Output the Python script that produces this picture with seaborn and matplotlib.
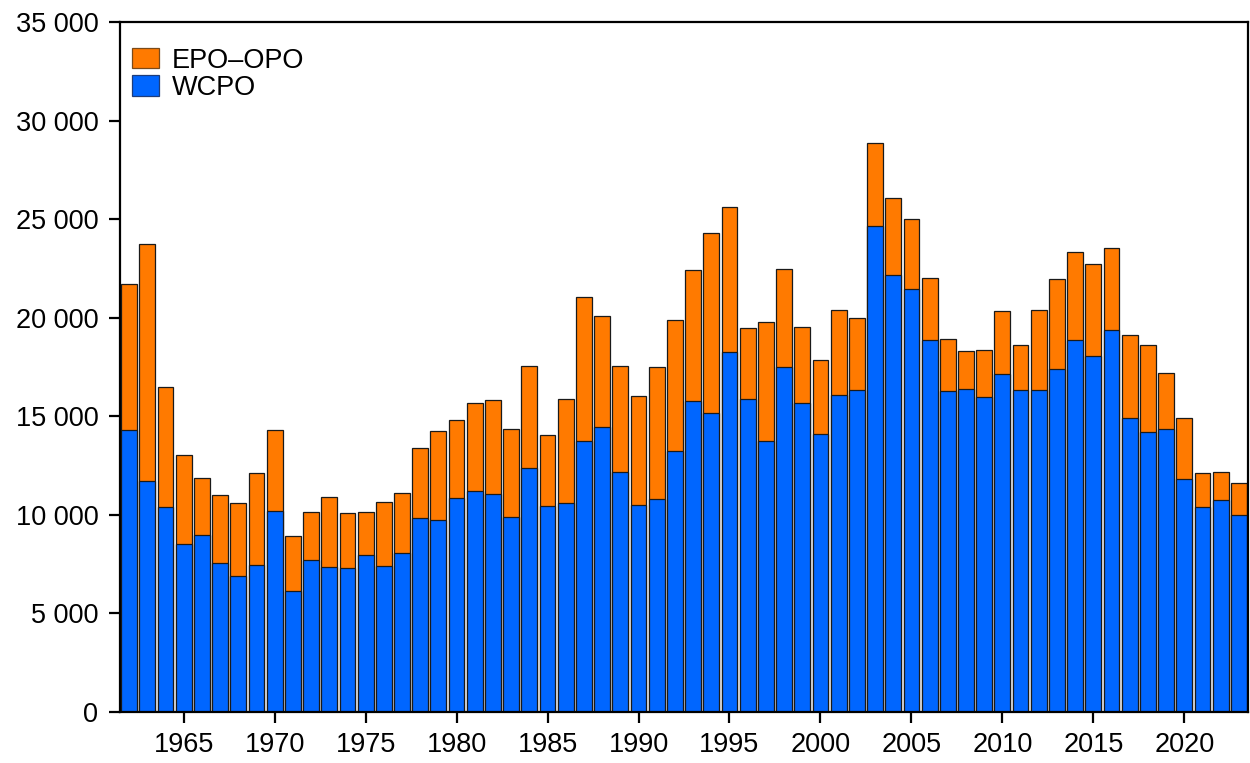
import numpy as np
import pandas as pd
import matplotlib
matplotlib.use("Agg")
import matplotlib.pyplot as plt
from matplotlib.ticker import FuncFormatter, MultipleLocator
from matplotlib.patches import Patch
import seaborn as sns

# Annual catch by ocean region
years = list(range(1962, 2024))
wcpo = [14320, 11720, 10390, 8520, 9000, 7540, 6880, 7460, 10200, 6150,
        7730, 7380, 7320, 7950, 7400, 8070, 9820, 9730, 10840, 11190,
        11070, 9900, 12360, 10450, 10610, 13770, 14450, 12190, 10490, 10780,
        13260, 15780, 15180, 18280, 15860, 13770, 17500, 15660, 14120, 16090,
        16330, 24650, 22150, 21450, 18850, 16290, 16390, 15960, 17150, 16310,
        16310, 17400, 18870, 18070, 19390, 14900, 14200, 14340, 11800, 10380,
        10760, 10000]
total = [21720, 23730, 16500, 13050, 11890, 11000, 10620, 12130, 14320, 8910,
         10140, 10920, 10080, 10140, 10640, 11110, 13400, 14240, 14820, 15660,
         15820, 14380, 17540, 14060, 15880, 21070, 20080, 17560, 16040, 17480,
         19900, 22420, 24280, 25640, 19490, 19790, 22480, 19530, 17850, 20390,
         19980, 28850, 26050, 25000, 22030, 18930, 18320, 18360, 20350, 18630,
         20410, 21970, 23320, 22730, 23550, 19120, 18620, 17220, 14900, 12120,
         12180, 11600]
epo_opo = [t - w for t, w in zip(total, wcpo)]

legend_labels = ["EPO–OPO", "WCPO"]
orange = "#FF7A00"
blue = "#0066FF"

df = pd.DataFrame({"year": years, "wcpo": wcpo, "epo_opo": epo_opo})
df["total"] = df["wcpo"] + df["epo_opo"]

sns.set_style("ticks")
plt.rcParams["font.family"] = ["Liberation Sans", "DejaVu Sans"]
plt.rcParams["text.color"] = "black"

fig = plt.figure(figsize=(12.5, 7.63), dpi=100)
ax = fig.add_axes([0.096, 0.0668, 0.9024, 0.9044])

edge = dict(edgecolor="#1a1a1a", linewidth=0.9)
# stacked bars: full height in orange, WCPO portion in blue on top of it
sns.barplot(data=df, x="year", y="total", native_scale=True, width=0.87,
            color=orange, saturation=1, ax=ax, **edge)
sns.barplot(data=df, x="year", y="wcpo", native_scale=True, width=0.87,
            color=blue, saturation=1, ax=ax, **edge)

ax.set_xlim(1961.5, 2023.5)
ax.set_ylim(0, 35000)
ax.xaxis.set_major_locator(MultipleLocator(5))
ax.yaxis.set_major_locator(MultipleLocator(5000))
ax.yaxis.set_major_formatter(FuncFormatter(lambda v, p: f"{int(v):,}".replace(",", " ")))
ax.xaxis.set_major_formatter(FuncFormatter(lambda v, p: f"{int(v)}"))
ax.set_xlabel("")
ax.set_ylabel("")

for s in ax.spines.values():
    s.set_visible(True)
    s.set_linewidth(1.6)
    s.set_color("black")

ax.tick_params(axis="both", direction="out", length=8, width=1.6, color="black",
               labelsize=19.5, labelcolor="black")
ax.tick_params(axis="y", pad=7.5)
ax.tick_params(axis="x", pad=6.5)

handles = [Patch(facecolor=orange, edgecolor="#7a4a1a", linewidth=0.9),
           Patch(facecolor=blue, edgecolor="#1f3d7a", linewidth=0.9)]
ax.legend(handles, legend_labels, loc="upper left", bbox_to_anchor=(0.011, 0.963),
          frameon=False, fontsize=19.5, handlelength=1.0, handleheight=0.8,
          handletextpad=0.45, labelspacing=0.05, borderaxespad=0, borderpad=0,
          labelcolor="black")

fig.savefig("out.png", dpi=100)
